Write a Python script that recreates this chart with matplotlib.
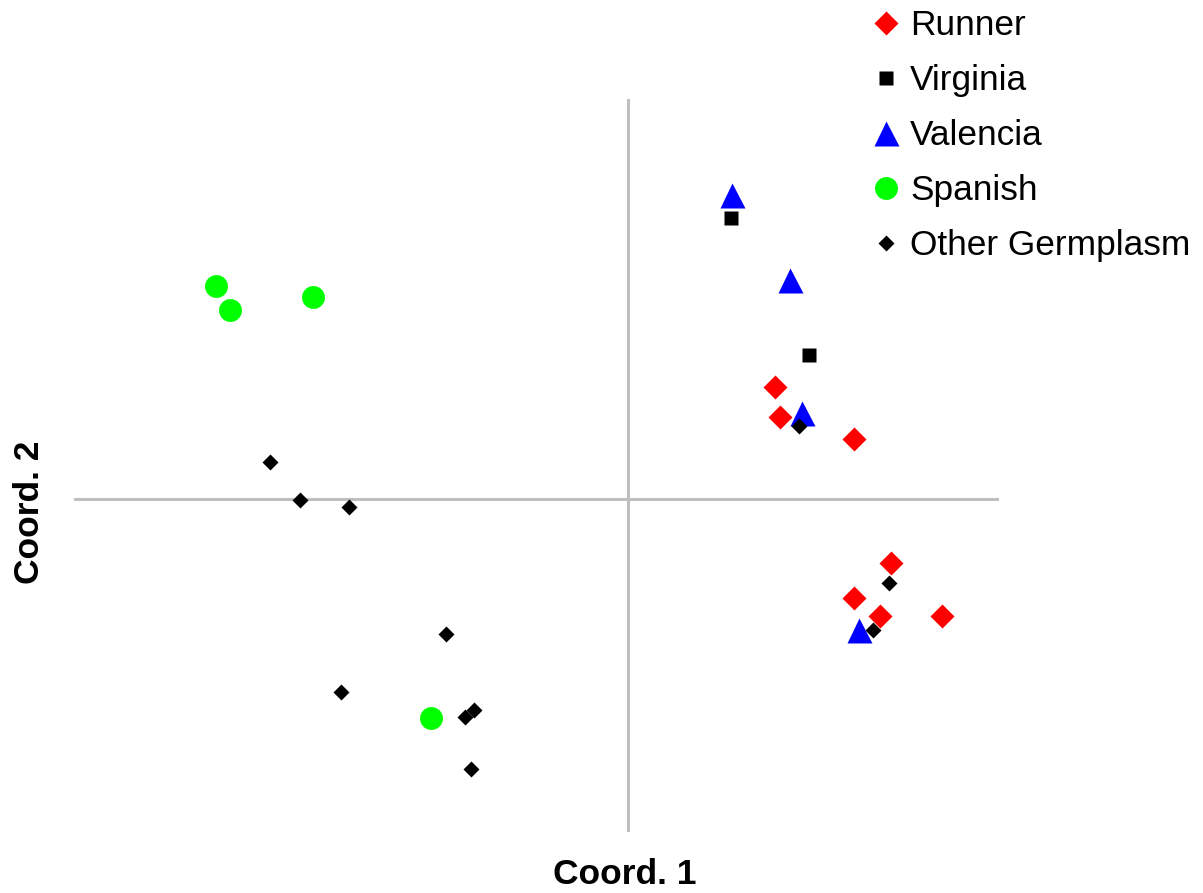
import matplotlib.pyplot as plt

plt.rcParams['font.family'] = ['Liberation Sans', 'DejaVu Sans']

# PCoA scores (Coord. 1, Coord. 2)
runner_x = [1.47, 1.52, 2.26, 2.63, 2.26, 2.52, 3.14]
runner_y = [1.12, 0.82, 0.60, -0.64, -0.99, -1.17, -1.17]

virginia_x = [1.03, 1.81]
virginia_y = [2.81, 1.44]

valencia_x = [1.04, 1.62, 1.74, 2.31]
valencia_y = [3.04, 2.19, 0.86, -1.31]

spanish_x = [-4.12, -3.98, -3.15, -1.97]
spanish_y = [2.13, 1.89, 2.02, -2.19]

other_x = [-3.58, -3.28, -2.79, -1.82, -2.87, -1.63, -1.54, -1.57, 1.71, 2.61, 2.45]
other_y = [0.37, -0.01, -0.08, -1.35, -1.93, -2.18, -2.11, -2.70, 0.73, -0.84, -1.31]

fig = plt.figure(figsize=(12.03, 8.93), dpi=100)
ax = fig.add_axes([0, 0, 1, 1])
ax.set_xlim(-6.28, 5.75)
ax.set_ylim(-3.94, 4.99)
ax.axis('off')

# axis lines crossing at the origin
ax.plot([-5.53, 3.69], [0, 0], color='#bfbfbf', lw=2.2, zorder=1)
ax.plot([0, 0], [-3.31, 3.99], color='#bfbfbf', lw=2.2, zorder=1)

ax.plot(runner_x, runner_y, 'D', color='#ff0000', ms=12.7, mec='none', label='Runner', zorder=3)
ax.plot(virginia_x, virginia_y, 's', color='black', ms=10, mec='none', label='Virginia', zorder=3)
ax.plot(valencia_x, valencia_y, '^', color='#0000ff', ms=18, mec='none', label='Valencia', zorder=3)
ax.plot(spanish_x, spanish_y, 'o', color='#00ff00', ms=16.5, mec='none', label='Spanish', zorder=3)
ax.plot(other_x, other_y, 'D', color='black', ms=8.1, mec='none', label='Other Germplasm', zorder=4)

ax.legend(loc='upper left', bbox_to_anchor=(0.698, 1.025), frameon=False, fontsize=25.4,
          handlelength=0.8, handletextpad=0.3, labelspacing=0.62, numpoints=1)

ax.text(-0.03, -3.76, 'Coord. 1', ha='center', va='center', fontsize=25.5, fontweight='bold')
ax.text(-5.99, -0.13, 'Coord. 2', ha='center', va='center', rotation=90, fontsize=25.5, fontweight='bold')

fig.savefig('out.png', dpi=100)
